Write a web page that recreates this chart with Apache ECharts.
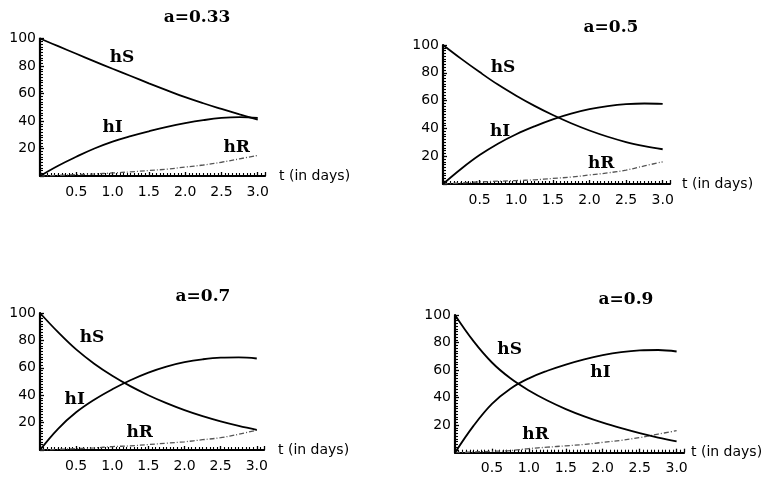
<!DOCTYPE html>
<html>
<head>
<meta charset="utf-8">
<script src="https://cdn.jsdelivr.net/npm/echarts@6/dist/echarts.min.js"></script>
<style>html,body{margin:0;padding:0;background:#fff}#c{width:776px;height:477px}</style>
</head>
<body>
<div id="c"></div>
<script>
// time points (days)
const tDays = [0, 0.25, 0.5, 0.75, 1.0, 1.25, 1.5, 1.75, 2.0, 2.25, 2.5, 2.75, 3.0];
const panelTitles = ['a=0.33', 'a=0.5', 'a=0.7', 'a=0.9'];
const xTickLabels = ['0.5', '1.0', '1.5', '2.0', '2.5', '3.0'];
const yTickLabels = ['20', '40', '60', '80', '100'];
const xAxisTitle = 't (in days)';

// a = 0.33
const hS1 = [100, 94.4, 88.9, 83.4, 78, 72.7, 67.4, 62.3, 57.3, 52.9, 48.8, 44.8, 41];
const hI1 = [0, 7.5, 14, 20, 25, 29, 32.5, 35.7, 38.4, 40.6, 42.2, 42.8, 42.3];
const hR1 = [0, 0.5, 1, 1.5, 2.2, 3, 4, 5, 6.5, 8, 10, 12.5, 15];
// a = 0.5
const hS2 = [100, 90, 80.5, 71.5, 63.5, 56.2, 49.6, 43.7, 38.5, 34, 30.2, 27.3, 25];
const hI2 = [0, 11, 20.8, 29, 35.8, 41.5, 46.5, 50.6, 53.8, 56, 57.4, 57.9, 57.6];
const hR2 = [0, 0.8, 1.5, 2, 2.5, 3, 4, 5, 6.5, 8, 10, 13, 16];
// a = 0.7
const hS3 = [100, 86, 73.4, 63, 54.2, 46.6, 40, 34.2, 29.1, 24.7, 20.9, 17.6, 14.7];
const hI3 = [0, 15.5, 27.5, 36.7, 44.3, 50.9, 56.5, 60.9, 64.1, 66.2, 67.4, 67.6, 66.8];
const hR3 = [0, 0.5, 1, 1.5, 2.5, 3, 4, 5, 6, 7.5, 9, 11.5, 14.5];
// a = 0.9
const hS4 = [100, 81, 65.5, 54, 45.2, 37.9, 31.7, 26.4, 21.8, 17.8, 14.2, 11, 8.3];
const hI4 = [0, 19.5, 35.5, 46.5, 54, 59.5, 64, 67.8, 70.8, 73, 74.3, 74.6, 73.5];
const hR4 = [0, 0.5, 1, 1.5, 3, 4, 5, 6, 7.5, 9, 11, 13.5, 16];

// curve name labels: [t, value] per panel, order hS, hI, hR
const labelNames = ['hS', 'hI', 'hR'];
const labels1 = [[1.13, 85.8], [1.0, 35], [2.71, 21]];
const labels2 = [[0.82, 84], [0.78, 37.4], [2.16, 15]];
const labels3 = [[0.72, 81.8], [0.48, 36.5], [1.38, 13]];
const labels4 = [[0.74, 74.6], [1.97, 58], [1.09, 12.9]];

const panels = [
  {S: hS1, I: hI1, R: hR1, L: labels1, grid: {left: 40, top: 38.5, width: 225, height: 137.5}, title: [197, 18], gap: 14, pad: 7},
  {S: hS2, I: hI2, R: hR2, L: labels2, grid: {left: 443, top: 45, width: 227, height: 139}, title: [611, 28], gap: 12, pad: 6},
  {S: hS3, I: hI3, R: hR3, L: labels3, grid: {left: 40, top: 313, width: 224, height: 137}, title: [203, 297], gap: 14, pad: 4},
  {S: hS4, I: hI4, R: hR4, L: labels4, grid: {left: 455, top: 315, width: 229, height: 137.7}, title: [626, 300], gap: 7, pad: 5}
];

const lblFont = {fontFamily: 'DejaVu Sans', fontSize: 14, color: '#000'};
const grids = [], xAxes = [], yAxes = [], series = [], graphics = [];

panels.forEach((p, i) => {
  grids.push(p.grid);
  xAxes.push({
    type: 'value', gridIndex: i, min: 0, max: 3.1, interval: 0.5,
    name: xAxisTitle, nameLocation: 'end', nameGap: p.gap,
    nameTextStyle: Object.assign({}, lblFont, {padding: [p.pad, 0, 0, 0]}),
    axisLine: {onZero: false, lineStyle: {color: '#000', width: 2.2}},
    axisTick: {show: true, inside: true, length: 4, lineStyle: {color: '#000', width: 1.3}},
    minorTick: {show: true, splitNumber: 10, length: 3, lineStyle: {color: '#000', width: 1.1}},
    splitLine: {show: false}, minorSplitLine: {show: false},
    axisLabel: Object.assign({}, lblFont, {margin: 9, showMaxLabel: true,
      formatter: v => { const s = (Math.round(v * 10) / 10).toFixed(1); return xTickLabels.indexOf(s) >= 0 ? s : ''; }})
  });
  yAxes.push({
    type: 'value', gridIndex: i, min: 0, max: 100, interval: 20,
    axisLine: {show: true, onZero: false, lineStyle: {color: '#000', width: 2.2}},
    axisTick: {show: true, inside: true, length: 4, lineStyle: {color: '#000', width: 1.3}},
    minorTick: {show: true, splitNumber: 10, length: 3, lineStyle: {color: '#000', width: 1.1}},
    splitLine: {show: false}, minorSplitLine: {show: false},
    axisLabel: Object.assign({}, lblFont, {margin: 4,
      formatter: v => { const s = String(Math.round(v)); return yTickLabels.indexOf(s) >= 0 ? s : ''; }})
  });
  const mk = arr => tDays.map((t, k) => [t, arr[k]]);
  series.push({type: 'line', xAxisIndex: i, yAxisIndex: i, data: mk(p.S), smooth: 0.4, showSymbol: false,
    lineStyle: {color: '#000', width: 1.8}, silent: true, z: 3});
  series.push({type: 'line', xAxisIndex: i, yAxisIndex: i, data: mk(p.I), smooth: 0.4, showSymbol: false,
    lineStyle: {color: '#000', width: 1.8}, silent: true, z: 3});
  series.push({type: 'line', xAxisIndex: i, yAxisIndex: i, data: mk(p.R), smooth: 0.4, showSymbol: false,
    lineStyle: {color: '#555', width: 1.3, type: [5, 2, 1, 2]}, silent: true, z: 2});
  series.push({type: 'scatter', xAxisIndex: i, yAxisIndex: i, symbolSize: 0, silent: true, z: 5,
    itemStyle: {color: '#000', opacity: 1},
    data: p.L.map((c, k) => ({value: c, name: labelNames[k]})),
    label: {show: true, position: 'inside', formatter: d => d.name, textBorderWidth: 0, opacity: 1,
      fontFamily: 'DejaVu Serif', fontWeight: 'bold', fontSize: 17, color: '#000'}});
  graphics.push({type: 'text', x: p.title[0], y: p.title[1],
    style: {text: panelTitles[i], fontFamily: 'DejaVu Serif', fontWeight: 'bold', fontSize: 17,
      fill: '#000', textAlign: 'center', textVerticalAlign: 'middle'}});
});

const chart = echarts.init(document.getElementById('c'), null, {renderer: 'canvas'});
chart.setOption({
  backgroundColor: '#fff',
  animation: false,
  grid: grids, xAxis: xAxes, yAxis: yAxes, series: series, graphic: graphics
});
</script>
</body>
</html>
